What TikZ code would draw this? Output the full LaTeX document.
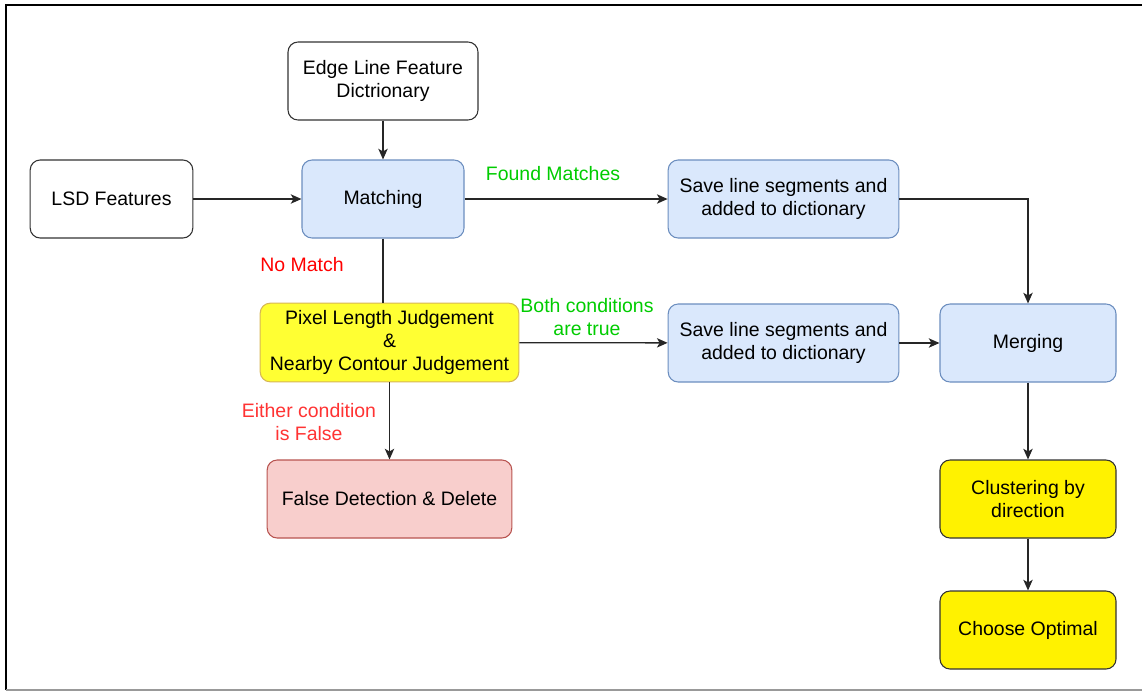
\documentclass[tikz,border=0pt]{standalone}
\usepackage{fontspec}
\setmainfont{Liberation Sans}
\usetikzlibrary{arrows.meta}
\definecolor{bluefill}{HTML}{DAE8FC}
\definecolor{bluedraw}{HTML}{6C8EBF}
\definecolor{redfill}{HTML}{F8CECC}
\definecolor{reddraw}{HTML}{B85450}
\definecolor{yelfill}{HTML}{FFFF33}
\definecolor{yeldraw}{HTML}{D6B656}
\definecolor{okgreen}{HTML}{00CC00}
\definecolor{nored}{HTML}{FF0000}
\definecolor{lightred}{HTML}{FF3333}
\definecolor{framegray}{HTML}{999999}
\tikzset{
  box/.style={rounded corners=7.5pt, line width=0.8pt, align=center,
    inner sep=2pt, font=\fontsize{14.6}{17.3}\selectfont},
  plainbox/.style={box, draw=black!80, fill=white},
  bluebox/.style={box, draw=bluedraw, fill=bluefill},
  redbox/.style={box, draw=reddraw, fill=redfill},
  yellowbox/.style={box, draw=yeldraw, fill=yelfill},
  brightbox/.style={box, draw=black!80, fill=yellow},
  arr/.style={line width=1pt, black!85, -{Stealth[length=8pt,width=7pt,inset=2pt]}},
  link/.style={line width=1pt, black!85},
  lbl/.style={align=center, inner sep=0pt, font=\fontsize{14.6}{17.3}\selectfont},
}
\begin{document}
\begin{tikzpicture}[x=0.75pt, y=-0.75pt]
\useasboundingbox (0,0) rectangle (1142,693);
% outer frame
\draw[line width=2.2pt, black] (6,690) -- (6,5) -- (1142,5);
\draw[line width=0.8pt, framegray] (6,690) -- (1142,690);

% boxes
\node[plainbox, minimum width=142.5pt, minimum height=58.5pt] (dict) at (383,81) {Edge Line Feature\\Dictrionary};
\node[plainbox, minimum width=122pt, minimum height=58.5pt] (lsd) at (111.5,199) {LSD Features};
\node[bluebox, minimum width=121.5pt, minimum height=58.5pt] (match) at (383,199) {Matching};
\node[bluebox, minimum width=173pt, minimum height=58.5pt] (save1) at (783.5,199) {Save line segments and\\added to dictionary};
\node[yellowbox, minimum width=194pt, minimum height=59pt] (pix) at (389.5,342.5) {Pixel Length Judgement\\\&\\Nearby Contour Judgement};
\node[bluebox, minimum width=173pt, minimum height=58.5pt] (save2) at (783.5,343) {Save line segments and\\added to dictionary};
\node[bluebox, minimum width=132pt, minimum height=58.5pt] (merge) at (1028,343) {Merging};
\node[redbox, minimum width=183.5pt, minimum height=58.5pt] (false) at (389.5,499) {False Detection \& Delete};
\node[brightbox, minimum width=132pt, minimum height=58.5pt] (clust) at (1028,499) {Clustering by\\direction};
\node[brightbox, minimum width=132pt, minimum height=58.5pt] (opt) at (1028,630) {Choose Optimal};

% connectors
\draw[arr] (dict) -- (match);
\draw[arr] (lsd) -- (match);
\draw[arr] (match) -- (save1);
\draw[link] (match.south) -- (match.south |- pix.north);
\draw[arr] (pix) -- (save2);
\draw[arr] (pix) -- (false);
\draw[arr] (save1.east) -| (merge.north);
\draw[arr] (save2) -- (merge);
\draw[arr] (merge) -- (clust);
\draw[arr] (clust) -- (opt);

% connector labels
\node[lbl, text=okgreen] (lfound) at (553,174) {Found Matches};
\node[lbl, text=nored] (lnomatch) at (302,265) {No Match};
\node[lbl, text=okgreen] (lboth) at (587,317.5) {Both conditions\\are true};
\node[lbl, text=lightred] (leither) at (309,422) {Either condition\\is False};
\end{tikzpicture}
\end{document}
